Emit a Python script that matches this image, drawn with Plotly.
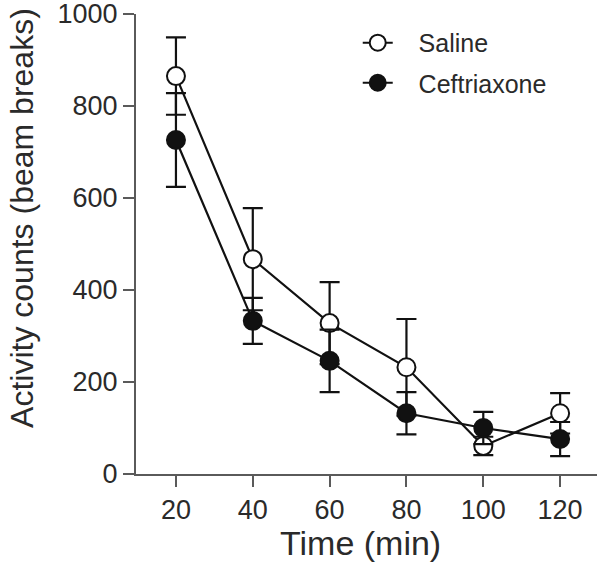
import plotly.graph_objects as go

time_min = [20, 40, 60, 80, 100, 120]
saline_mean = [865, 467, 328, 232, 61, 132]
saline_sem = [84, 111, 89, 105, 20, 44]
ceftriaxone_mean = [726, 333, 246, 132, 100, 76]
ceftriaxone_sem = [102, 50, 68, 46, 35, 37]

x_ticks = [20, 40, 60, 80, 100, 120]
y_ticks = [0, 200, 400, 600, 800, 1000]

FONT = "Liberation Sans, Arial, Helvetica, sans-serif"
INK = "#111111"
AXIS = "#5a5a5a"
TXT = "#2a2a2a"

fig = go.Figure()
fig.add_trace(go.Scatter(
    x=time_min, y=saline_mean, name="\u00a0\u00a0\u00a0Saline", mode="lines+markers",
    line=dict(color=INK, width=2.2),
    marker=dict(symbol="circle", size=18, color="white", line=dict(color=INK, width=2)),
    error_y=dict(type="data", array=saline_sem, visible=True, color=INK, thickness=2.2, width=10),
    legend="legend",
))
fig.add_trace(go.Scatter(
    x=time_min, y=ceftriaxone_mean, name="\u00a0\u00a0\u00a0Ceftriaxone", mode="lines+markers",
    line=dict(color=INK, width=2.2),
    marker=dict(symbol="circle", size=18, color=INK, line=dict(color=INK, width=2)),
    error_y=dict(type="data", array=ceftriaxone_sem, visible=True, color=INK, thickness=2.2, width=10),
    legend="legend2",
))

legend_common = dict(
    font=dict(family=FONT, size=25, color=TXT),
    bgcolor="rgba(0,0,0,0)", borderwidth=0,
    xanchor="left", yanchor="middle", itemsizing="trace",
)

fig.update_layout(
    width=600, height=563,
    margin=dict(l=136, r=3, t=14, b=89),
    paper_bgcolor="white", plot_bgcolor="white",
    font=dict(family=FONT, color=TXT),
    showlegend=True,
    legend=dict(x=0.481, y=0.937, **legend_common),
    legend2=dict(x=0.481, y=0.85, **legend_common),
    xaxis=dict(
        range=[9.6, 129.6], tickmode="array", tickvals=x_ticks,
        ticks="outside", ticklen=11, tickwidth=2, tickcolor=AXIS,
        showline=True, linecolor=AXIS, linewidth=2, showgrid=False, zeroline=False,
        tickfont=dict(family=FONT, size=27, color=TXT), automargin=False,
        ticklabeloverflow="allow",
    ),
    yaxis=dict(
        range=[0, 1000], tickmode="array", tickvals=y_ticks,
        ticks="outside", ticklen=11, tickwidth=2, tickcolor=AXIS,
        showline=True, linecolor=AXIS, linewidth=2, showgrid=False, zeroline=False,
        tickfont=dict(family=FONT, size=27, color=TXT), automargin=False,
        ticklabeloverflow="allow",
    ),
    annotations=[
        dict(text="Time (min)", xref="paper", yref="paper", x=0.486, y=-0.15,
             xanchor="center", yanchor="middle", showarrow=False,
             font=dict(family=FONT, size=34, color=TXT)),
        dict(text="Activity counts (beam breaks)", xref="paper", yref="paper", x=-0.247, y=0.557,
             xanchor="center", yanchor="middle", showarrow=False, textangle=-90,
             font=dict(family=FONT, size=32, color=TXT)),
    ],
)

fig.write_html(
    "out.html",
    config={"displayModeBar": False},
    post_script="document.body.style.margin='0px';document.body.style.overflow='hidden';",
)
